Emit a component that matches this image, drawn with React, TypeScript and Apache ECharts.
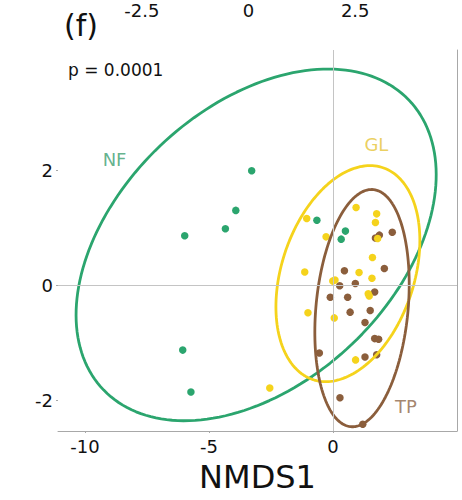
import React, { useEffect, useRef } from "react";
import * as echarts from "echarts";

// ---- data ----
const groups = ["NF", "GL", "TP"];
const colors = ["#2ba56e", "#f5d31c", "#8b5e3c"];
const labelColors = ["#3d9e70", "#e6c437", "#8d6649"];

const nfX = [-3.28, -3.92, -4.34, -5.98, -6.06, -5.73, -0.65, 0.5, 0.33];
const nfY = [2.0, 1.31, 0.99, 0.87, -1.12, -1.85, 1.14, 0.95, 0.81];

const glX = [-1.06, 0.93, 1.76, 1.71, -0.28, 1.8, 1.59, -1.14, 1.05, 1.57, -0.01, 0.08, 1.42, 1.46, -1.01, 0.05, 0.91, -2.55];
const glY = [1.17, 1.36, 1.25, 1.1, 0.85, 0.82, 0.49, 0.24, 0.23, 0.13, 0.08, 0.1, -0.14, -0.18, -0.47, -0.56, -1.29, -1.78];

const tpX = [1.87, 1.71, 2.39, 2.07, 0.46, 0.9, 0.27, 1.68, -0.11, 0.59, 0.69, 1.5, 1.29, 1.68, 1.84, 1.29, 1.76, -0.55, 0.28, 1.2];
const tpY = [0.88, 0.83, 0.93, 0.3, 0.26, 0.04, 0.0, -0.11, -0.2, -0.2, -0.46, -0.43, -0.64, -0.92, -0.93, -1.24, -1.2, -1.17, -1.95, -2.41];

// ellipse parameters: [cx, cy, semiMajor, semiMinor, angleDeg]
const ellipseNF = [-3.1, 0.71, 7.38, 2.76, 11.1];
const ellipseGL = [0.6, 0.21, 2.99, 1.735, 17.2];
const ellipseTP = [1.17, -0.39, 2.19, 1.756, 55.9];

// group label positions (data coords)
const labelX = [-8.81, 1.75, 2.94];
const labelY = [2.19, 2.46, -2.1];

const xTicks = [-10, -5, 0];
const yTicks = [-2, 0, 2];
const topTicks = [-2.5, 0, 2.5];

const panelTag = "(f)";
const pText = "p = 0.0001";
const xName = "NMDS1";

function zip(xs: number[], ys: number[]) {
  return xs.map((x, i) => [x, ys[i]]);
}

function ellipse(p: number[], n = 180) {
  const [cx, cy, a, b, ang] = p;
  const t = (ang * Math.PI) / 180;
  const pts: number[][] = [];
  for (let i = 0; i <= n; i++) {
    const s = (2 * Math.PI * i) / n;
    const ex = a * Math.cos(s);
    const ey = b * Math.sin(s);
    pts.push([cx + ex * Math.cos(t) - ey * Math.sin(t), cy + ex * Math.sin(t) + ey * Math.cos(t)]);
  }
  return pts;
}

const FONT = "DejaVu Sans";

export default function App() {
  const ref = useRef<HTMLDivElement>(null);
  useEffect(() => {
    document.body.style.margin = "0";
    const chart = echarts.init(ref.current!, undefined, { renderer: "svg" });
    const pts = [zip(nfX, nfY), zip(glX, glY), zip(tpX, tpY)];
    const ells = [ellipseNF, ellipseGL, ellipseTP];
    const pointOrder = [0, 2, 1];
    const series: any[] = [];
    series.push({
      type: "line",
      data: [],
      z: 1,
      silent: true,
      markLine: {
        silent: true,
        symbol: "none",
        label: { show: false },
        lineStyle: { color: "#c4c4c4", width: 1, type: "solid" },
        data: [{ xAxis: 0 }, { yAxis: 0 }],
      },
    });
    pointOrder.forEach((g) => {
      series.push({
        type: "scatter",
        name: groups[g],
        data: pts[g],
        symbolSize: 7.5,
        itemStyle: { color: colors[g], opacity: 1 },
        z: 2,
      });
    });
    [0, 1, 2].forEach((g) => {
      series.push({
        type: "line",
        data: ellipse(ells[g]),
        showSymbol: false,
        symbol: "none",
        lineStyle: { color: colors[g], width: 2.8 },
        z: 3,
        silent: true,
      });
    });
    series.push({
      type: "scatter",
      data: groups.map((g, i) => ({
        value: [labelX[i], labelY[i]],
        label: { color: labelColors[i], formatter: g },
      })),
      symbolSize: 0,
      label: { show: true, position: "inside", fontSize: 18, fontFamily: FONT },
      z: 4,
      silent: true,
    });

    chart.setOption({
      animation: false,
      grid: { left: 58, right: 5, top: 50, bottom: 69, outerBoundsMode: "none", containLabel: false },
      xAxis: [
        {
          type: "value",
          min: -11.09,
          max: 5.0,
          axisLine: { show: true, onZero: false, lineStyle: { color: "#a8a8a8", width: 1 } },
          axisTick: { show: true, length: 2, lineStyle: { color: "#a8a8a8" }, customValues: xTicks },
          axisLabel: { customValues: xTicks, fontSize: 18, fontFamily: FONT, color: "#111", margin: 6 },
          splitLine: { show: false },
          name: xName,
          nameLocation: "middle",
          nameGap: 30,
          nameTextStyle: { fontSize: 32, fontFamily: FONT, color: "#111" },
        },
        {
          type: "value",
          position: "top",
          min: -4.463,
          max: 4.885,
          offset: 23,
          axisLine: { show: false, onZero: false },
          axisTick: { show: false },
          axisLabel: { customValues: topTicks, fontSize: 18, fontFamily: FONT, color: "#111", margin: 8 },
          splitLine: { show: false },
        },
      ],
      yAxis: [
        {
          type: "value",
          min: -2.527,
          max: 4.1,
          axisLine: { show: false, onZero: false },
          axisTick: { show: true, length: 2, lineStyle: { color: "#a8a8a8" }, customValues: yTicks },
          axisLabel: { customValues: yTicks, fontSize: 18, fontFamily: FONT, color: "#111", margin: 5 },
          splitLine: { show: false },
        },
        {
          type: "value",
          position: "right",
          min: -2.527,
          max: 4.1,
          axisLine: { show: true, onZero: false, lineStyle: { color: "#a8a8a8", width: 1 } },
          axisTick: { show: false },
          axisLabel: { show: false },
          splitLine: { show: false },
        },
      ],
      graphic: [
        {
          type: "text",
          left: 64,
          top: 10,
          style: { text: panelTag, fontSize: 30, fontFamily: FONT, fill: "#111" },
        },
        {
          type: "text",
          left: 68,
          top: 61,
          style: { text: pText, fontSize: 17, fontFamily: FONT, fill: "#111" },
        },
      ],
      series,
    });
    return () => chart.dispose();
  }, []);
  return <div ref={ref} style={{ width: 462, height: 500 }} />;
}
